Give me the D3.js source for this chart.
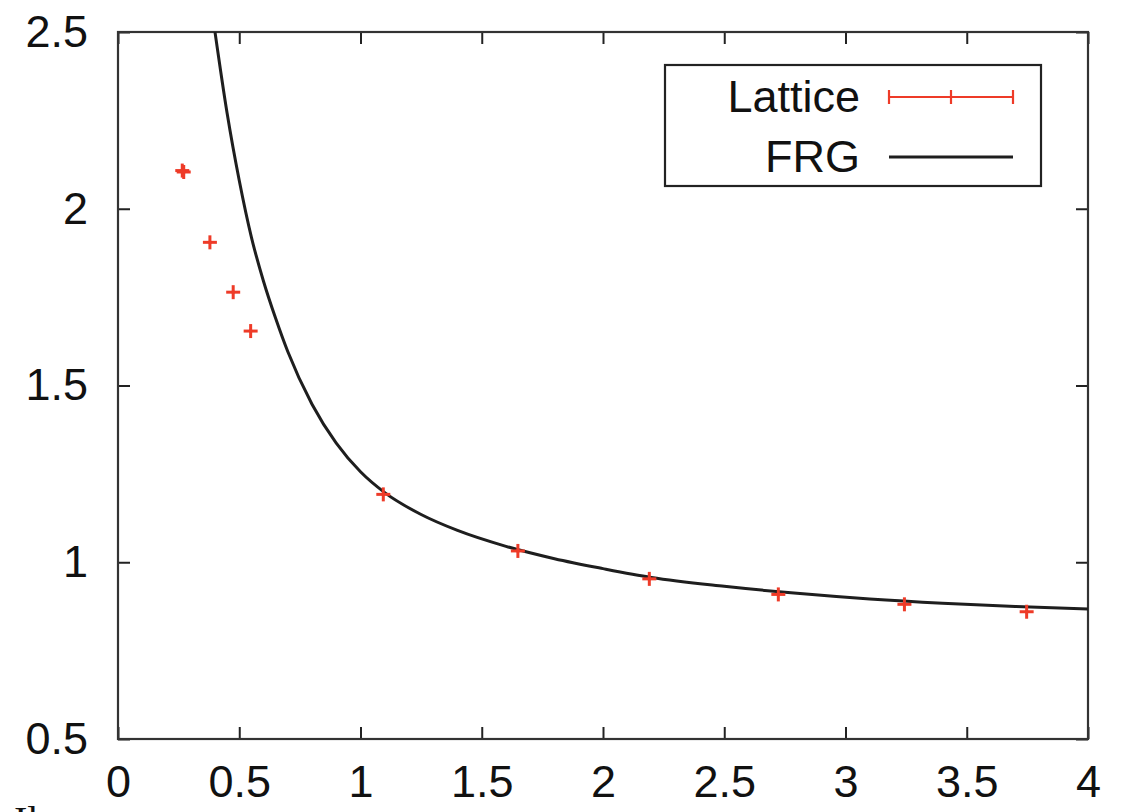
<!DOCTYPE html>
<html>
<head>
<meta charset="utf-8">
<script src="https://cdn.jsdelivr.net/npm/d3@7"></script>
<style>
  html, body { margin: 0; padding: 0; background: #fff; }
  svg { display: block; }
  text { font-family: "Liberation Sans", Arial, sans-serif; fill: #111; }
</style>
</head>
<body>
<svg id="chart" width="1132" height="812"></svg>
<script>
// Lattice data points (x, y)
const latticeX = [0.265, 0.271, 0.379, 0.475, 0.547, 1.094, 1.649, 2.191, 2.723, 3.243, 3.747];
const latticeY = [2.108, 2.104, 1.905, 1.764, 1.654, 1.192, 1.032, 0.953, 0.909, 0.881, 0.860];
const latticeErr = [0.004, 0.004, 0.004, 0.004, 0.004, 0.004, 0.004, 0.004, 0.004, 0.004, 0.004];

// FRG curve samples
const frgX = [0.40, 0.45, 0.50, 0.55, 0.60, 0.65, 0.70, 0.80, 0.90, 1.00, 1.10, 1.25, 1.40, 1.60, 1.80, 2.00, 2.20, 2.50, 2.80, 3.10, 3.40, 3.70, 4.00];
const frgY = [2.50, 2.27, 2.08, 1.92, 1.795, 1.69, 1.596, 1.447, 1.337, 1.256, 1.197, 1.135, 1.090, 1.045, 1.010, 0.982, 0.957, 0.932, 0.912, 0.896, 0.884, 0.875, 0.868];

const xTicks = [0, 0.5, 1, 1.5, 2, 2.5, 3, 3.5, 4];
const yTicks = [0.5, 1, 1.5, 2, 2.5];
const seriesNames = ["Lattice", "FRG"];

const RED = "#ee3b28";
const BLACK = "#1e1e1e";

const svg = d3.select("#chart");
const plot = { left: 118, top: 32, right: 1088, bottom: 739 };

const x = d3.scaleLinear().domain([0, 4]).range([plot.left, plot.right]);
const y = d3.scaleLinear().domain([0.5, 2.5]).range([plot.bottom, plot.top]);

svg.append("defs").append("clipPath").attr("id", "clip")
  .append("rect")
  .attr("x", plot.left).attr("y", plot.top)
  .attr("width", plot.right - plot.left).attr("height", plot.bottom - plot.top);

// Axes with inward ticks on all four sides
const tickLen = 12;
const axisBottom = d3.axisBottom(x).tickValues(xTicks).tickSizeInner(-tickLen).tickSizeOuter(0)
  .tickPadding(26).tickFormat(d3.format("~g"));
const axisTop = d3.axisTop(x).tickValues(xTicks).tickSizeInner(-tickLen).tickSizeOuter(0).tickFormat("");
const axisLeft = d3.axisLeft(y).tickValues(yTicks).tickSizeInner(-tickLen).tickSizeOuter(0)
  .tickPadding(30).tickFormat(d3.format("~g"));
const axisRight = d3.axisRight(y).tickValues(yTicks).tickSizeInner(-tickLen).tickSizeOuter(0).tickFormat("");

function styleAxis(g) {
  g.select(".domain").remove();
  g.selectAll(".tick line").attr("stroke", "#222").attr("stroke-width", 2);
  g.selectAll(".tick text").attr("font-size", 45).attr("fill", "#111")
    .style("font-family", "'Liberation Sans', Arial, sans-serif");
}

svg.append("g").attr("transform", `translate(0,${plot.bottom})`).call(axisBottom).call(styleAxis);
svg.append("g").attr("transform", `translate(0,${plot.top})`).call(axisTop).call(styleAxis);
svg.append("g").attr("transform", `translate(${plot.left},0)`).call(axisLeft).call(styleAxis);
svg.append("g").attr("transform", `translate(${plot.right},0)`).call(axisRight).call(styleAxis);

// Frame
svg.append("rect")
  .attr("x", plot.left).attr("y", plot.top)
  .attr("width", plot.right - plot.left).attr("height", plot.bottom - plot.top)
  .attr("fill", "none").attr("stroke", "#333").attr("stroke-width", 2.2);

// FRG curve
const frgData = frgX.map((v, i) => [v, frgY[i]]);
svg.append("path")
  .datum(frgData)
  .attr("clip-path", "url(#clip)")
  .attr("fill", "none")
  .attr("stroke", BLACK)
  .attr("stroke-width", 3)
  .attr("d", d3.line().x(d => x(d[0])).y(d => y(d[1])).curve(d3.curveMonotoneX));

// Lattice points: plus marker with vertical error bar
const latticeData = latticeX.map((v, i) => ({ x: v, y: latticeY[i], e: latticeErr[i] }));
const pts = svg.append("g").attr("stroke", RED).attr("stroke-width", 3).attr("clip-path", "url(#clip)");
const half = 7;
latticeData.forEach(d => {
  const cx = x(d.x), cy = y(d.y);
  pts.append("line").attr("x1", cx - half).attr("x2", cx + half).attr("y1", cy).attr("y2", cy);
  pts.append("line").attr("x1", cx).attr("x2", cx).attr("y1", cy - half).attr("y2", cy + half);
  pts.append("line").attr("x1", cx).attr("x2", cx)
    .attr("y1", y(d.y + d.e)).attr("y2", y(d.y - d.e));
});

// Legend
const legend = svg.append("g");
legend.append("rect")
  .attr("x", 665).attr("y", 65).attr("width", 376).attr("height", 121)
  .attr("fill", "#fff").attr("stroke", "#222").attr("stroke-width", 2.2);

const rowY = [97, 157];
legend.selectAll("text.name").data(seriesNames).enter().append("text")
  .attr("class", "name")
  .attr("x", 860).attr("y", (d, i) => rowY[i] + 15)
  .attr("text-anchor", "end").attr("font-size", 45)
  .text(d => d);

const lx1 = 889, lx2 = 1013;
const lg = legend.append("g").attr("stroke", RED).attr("stroke-width", 2.2);
lg.append("line").attr("x1", lx1).attr("x2", lx2).attr("y1", rowY[0]).attr("y2", rowY[0]);
[lx1, (lx1 + lx2) / 2, lx2].forEach(px => {
  lg.append("line").attr("x1", px).attr("x2", px).attr("y1", rowY[0] - 7).attr("y2", rowY[0] + 7);
});
legend.append("line").attr("x1", lx1).attr("x2", lx2).attr("y1", rowY[1]).attr("y2", rowY[1])
  .attr("stroke", BLACK).attr("stroke-width", 3);

// Start of the caption line below the figure
svg.append("text")
  .attr("x", 14).attr("y", 834)
  .style("font-family", "'Liberation Serif', 'Times New Roman', serif")
  .attr("font-size", 40).attr("fill", "#111")
  .text("Il");
</script>
</body>
</html>
